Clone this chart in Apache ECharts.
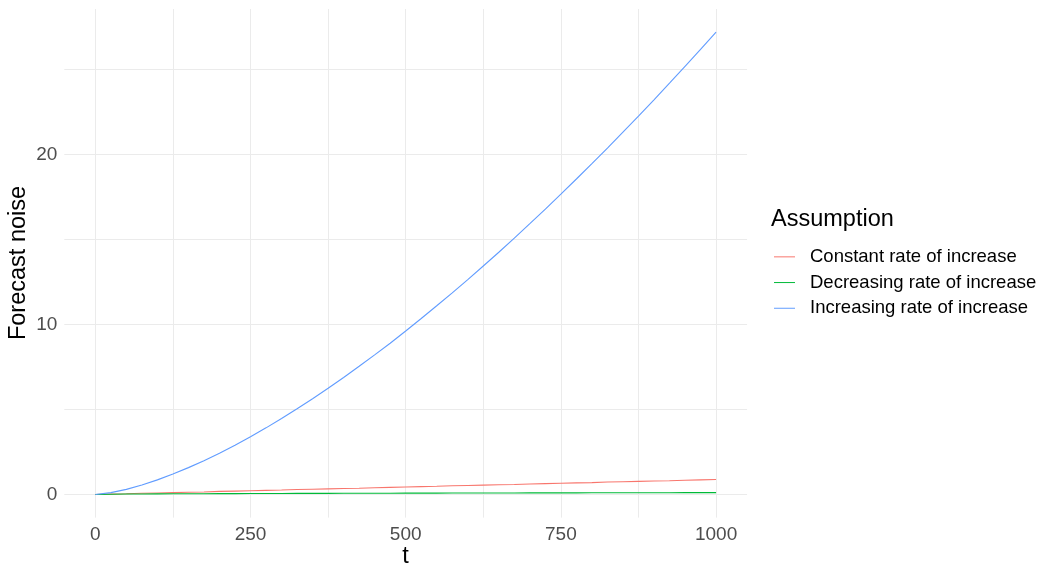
<!DOCTYPE html>
<html>
<head>
<meta charset="utf-8">
<script src="https://cdn.jsdelivr.net/npm/echarts@6/dist/echarts.min.js"></script>
<style>
html,body{margin:0;padding:0;background:#fff;}
#chart{width:1059px;height:579px;}
</style>
</head>
<body>
<div id="chart"></div>
<script>
var tValues = [0,25,50,75,100,125,150,175,200,225,250,275,300,325,350,375,400,425,450,475,500,525,550,575,600,625,650,675,700,725,750,775,800,825,850,875,900,925,950,975,1000];
var constantRate = [0,0.02,0.04,0.07,0.09,0.11,0.13,0.15,0.18,0.20,0.22,0.24,0.26,0.29,0.31,0.33,0.35,0.37,0.40,0.42,0.44,0.46,0.48,0.51,0.53,0.55,0.57,0.59,0.62,0.64,0.66,0.68,0.70,0.73,0.75,0.77,0.79,0.81,0.84,0.86,0.88];
var decreasingRate = [0,0.017,0.025,0.030,0.035,0.039,0.043,0.046,0.049,0.052,0.055,0.058,0.060,0.063,0.065,0.067,0.070,0.072,0.074,0.076,0.078,0.080,0.082,0.083,0.085,0.087,0.089,0.090,0.092,0.094,0.095,0.097,0.098,0.100,0.101,0.103,0.104,0.106,0.107,0.109,0.110];
var increasingRate = [0,0.11,0.30,0.56,0.86,1.20,1.58,1.99,2.43,2.90,3.40,3.92,4.47,5.04,5.63,6.25,6.88,7.54,8.21,8.90,9.62,10.35,11.10,11.86,12.64,13.44,14.25,15.08,15.93,16.79,17.67,18.56,19.46,20.38,21.32,22.26,23.22,24.20,25.19,26.19,27.20];
var seriesNames = ['Constant rate of increase','Decreasing rate of increase','Increasing rate of increase'];
var seriesColors = ['#F8766D','#00BA38','#619CFF'];
var xTickLabels = [0,250,500,750,1000];
var xGridValues = [0,125,250,375,500,625,750,875,1000];
var yTickLabels = [0,10,20];
var yGridValues = [0,5,10,15,20,25];

function pairs(ys){ return tValues.map(function(t,i){ return [t, ys[i]]; }); }
var allData = [constantRate, decreasingRate, increasingRate];

var FONT = "'Liberation Sans', Arial, sans-serif";
var chart = echarts.init(document.getElementById('chart'), null, {renderer:'canvas'});
chart.setOption({
  animation:false,
  backgroundColor:'#ffffff',
  grid:{left:64.3, top:9, width:682.8, height:508.6, containLabel:false},
  xAxis:{
    type:'value', min:-50, max:1050,
    axisLine:{show:false},
    axisTick:{show:false, customValues:xGridValues},
    axisLabel:{customValues:xTickLabels, color:'#4D4D4D', fontSize:19, fontFamily:FONT, margin:8,
      formatter:function(v){ return String(v); }},
    splitLine:{show:true, lineStyle:{color:'#EBEBEB', width:1}}
  },
  yAxis:{
    type:'value', min:-1.36, max:28.56,
    axisLine:{show:false},
    axisTick:{show:false, customValues:yGridValues},
    axisLabel:{customValues:yTickLabels, color:'#4D4D4D', fontSize:19, fontFamily:FONT, margin:7,
      formatter:function(v){ return String(v); }},
    splitLine:{show:true, lineStyle:{color:'#EBEBEB', width:1}}
  },
  legend:{
    orient:'vertical', left:769, top:239,
    itemWidth:21, itemHeight:1, itemGap:0,
    icon:'rect',
    data:seriesNames,
    textStyle:{fontSize:18.5, fontFamily:FONT, color:'#000', lineHeight:25.7, padding:[0,0,0,10]}
  },
  graphic:[
    {type:'text', left:771, top:208, style:{text:'Assumption', fontSize:23.5, fontFamily:FONT, fill:'#000'}},
    {type:'text', x:405.5, y:557, style:{text:'t', fontSize:23.5, fontFamily:FONT, fill:'#000', align:'center', verticalAlign:'middle'}},
    {type:'text', x:19, y:263, rotation:Math.PI/2, style:{text:'Forecast noise', fontSize:23.5, fontFamily:FONT, fill:'#000', align:'center', verticalAlign:'middle'}}
  ],
  series: seriesNames.map(function(n,i){
    return {
      name:n, type:'line', data:pairs(allData[i]),
      showSymbol:false, symbol:'none',
      lineStyle:{color:seriesColors[i], width:1.1},
      itemStyle:{color:seriesColors[i]},
      emphasis:{disabled:true}
    };
  })
});
</script>
</body>
</html>
